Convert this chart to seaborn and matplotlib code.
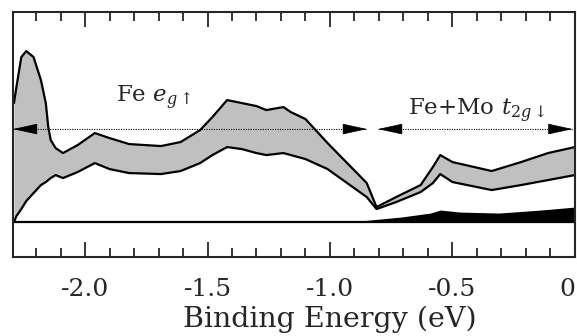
import numpy as np
import pandas as pd
import matplotlib
matplotlib.use("Agg")
import matplotlib.pyplot as plt
import seaborn as sns
from matplotlib.ticker import MultipleLocator, FixedLocator

# Binding energy grid (eV) shared by the two envelope curves
energy = [-2.29, -2.28, -2.26, -2.24, -2.21, -2.18, -2.16, -2.15, -2.14, -2.12,
          -2.09, -2.03, -1.96, -1.90, -1.82, -1.69, -1.61, -1.53, -1.48, -1.42,
          -1.36, -1.30, -1.26, -1.19, -1.16, -1.10, -1.01, -0.93, -0.85, -0.81,
          -0.73, -0.63, -0.58, -0.55, -0.50, -0.34, -0.22, -0.11, 0.00]

# upper and lower edge of the grey band (arb. units)
upper = [1.54, 1.70, 2.00, 2.06, 2.00, 1.77, 1.54, 1.30, 1.17, 1.09,
         1.04, 1.12, 1.24, 1.19, 1.13, 1.11, 1.15, 1.27, 1.40, 1.57,
         1.54, 1.51, 1.47, 1.50, 1.45, 1.38, 1.14, 0.94, 0.74, 0.50,
         0.60, 0.72, 0.90, 1.02, 0.95, 0.86, 0.95, 1.04, 1.10]
lower = [0.35, 0.41, 0.48, 0.56, 0.64, 0.72, 0.75, 0.77, 0.79, 0.82,
         0.79, 0.85, 0.94, 0.88, 0.84, 0.83, 0.86, 0.94, 1.02, 1.10,
         1.08, 1.04, 1.02, 1.04, 1.02, 0.98, 0.88, 0.74, 0.60, 0.48,
         0.55, 0.65, 0.74, 0.83, 0.75, 0.67, 0.72, 0.77, 0.82]

# black (minority) band near the baseline
black_energy = [-0.96, -0.88, -0.71, -0.59, -0.55, -0.47, -0.31, -0.14, 0.00]
black_top = [0.35, 0.36, 0.40, 0.44, 0.47, 0.45, 0.44, 0.47, 0.50]
baseline = 0.35

# region markers
region_labels = [r"Fe $e_{g\uparrow}$", r"Fe+Mo $t_{2g\downarrow}$"]
region_spans = [(-2.294, -0.849), (-0.804, -0.01)]
region_text_pos = [(-1.72, 1.55), (-0.40, 1.42)]
arrow_level = 1.28

xticks = [-2.0, -1.5, -1.0, -0.5, 0.0]
xticklabels = ["-2.0", "-1.5", "-1.0", "-0.5", "0"]

df = pd.DataFrame({"energy": energy, "upper": upper, "lower": lower})

sns.set_style("ticks")
plt.rcParams["font.family"] = ["DejaVu Serif"]
plt.rcParams["mathtext.fontset"] = "dejavuserif"

fig = plt.figure(figsize=(5.77, 3.36), dpi=100)
ax = fig.add_axes([0.0225, 0.235, 0.974, 0.729])

ax.fill_between(df["energy"], df["lower"], df["upper"], color="#c0c0c0", lw=0)
sns.lineplot(data=df, x="energy", y="upper", ax=ax, color="black", lw=1.6, estimator=None)
sns.lineplot(data=df, x="energy", y="lower", ax=ax, color="black", lw=1.6, estimator=None)

ax.fill_between(black_energy, baseline, black_top, color="black", lw=0)
ax.axhline(baseline, color="black", lw=1.6)

# dotted double arrows with labels
for (x0, x1), lab, (tx, ty) in zip(region_spans, region_labels, region_text_pos):
    ax.plot([x0, x1], [arrow_level, arrow_level], color="black", lw=0.8, ls=(0, (1, 1.2)))
    for tip, tail in [(x0, x0 + 0.08), (x1, x1 - 0.08)]:
        ax.annotate("", xy=(tip, arrow_level), xytext=(tail, arrow_level),
                    arrowprops=dict(arrowstyle="-|>,head_length=1.6,head_width=0.35",
                                    mutation_scale=10, color="black", lw=0.5,
                                    shrinkA=0, shrinkB=0))
    ax.text(tx, ty, lab, ha="center", va="baseline", fontsize=16.5)

ax.set_xlim(-2.294, 0.0)
ax.set_ylim(0, 2.45)
ax.xaxis.set_major_locator(FixedLocator(xticks))
ax.set_xticklabels(xticklabels)
ax.xaxis.set_minor_locator(MultipleLocator(0.1))
ax.set_yticks([])
ax.tick_params(axis="x", which="both", direction="in", top=True, bottom=True, labelsize=18, pad=15)
ax.tick_params(axis="x", which="major", length=11, width=1.3)
ax.tick_params(axis="x", which="minor", length=6.5, width=1.3)
ax.get_xticklabels()[-1].set_ha("right")
ax.set_xlabel("Binding Energy (eV)", fontsize=20.5, labelpad=5)
ax.xaxis.set_label_coords(0.564, -0.2)
ax.xaxis.label.set_va("top")
ax.set_ylabel("")
for s in ax.spines.values():
    s.set_linewidth(1.5)
    s.set_visible(True)

fig.savefig("out.png", dpi=100)
